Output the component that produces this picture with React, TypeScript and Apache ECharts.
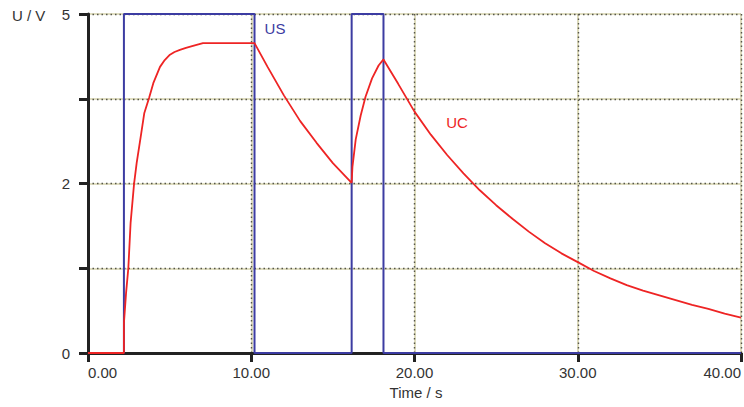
import React, { useEffect, useRef } from "react";
import * as echarts from "echarts";

// US: source voltage (square pulses)
const usTime = [0, 2.2, 2.2, 10.2, 10.2, 16.15, 16.15, 18.1, 18.1, 40];
const usValue = [0, 0, 5, 5, 0, 0, 5, 5, 0, 0];

// UC: capacitor voltage
const ucTime = [
  0, 2.2, 2.2, 2.33, 2.47, 2.61, 2.82, 2.98, 3.23, 3.45, 3.74, 4.0, 4.41, 4.7, 5.02, 5.3, 5.63, 6.0, 6.43, 7.04,
  10.2, 11, 12, 13, 14, 15, 16.15, 16.2, 16.4, 16.7, 17.0, 17.4, 17.8, 18.1,
  19, 20, 21, 22, 23, 24, 25, 26, 27, 28, 29, 30, 31, 32, 33, 34, 35, 36, 37, 38, 39, 40,
];
const ucValue = [
  0, 0, 0.44, 0.88, 1.25, 1.92, 2.49, 2.8, 3.19, 3.54, 3.76, 3.98, 4.22, 4.32, 4.4, 4.44, 4.47, 4.5, 4.53, 4.57,
  4.57, 4.22, 3.8, 3.42, 3.1, 2.8, 2.51, 2.75, 3.15, 3.5, 3.78, 4.05, 4.24, 4.33,
  3.97, 3.56, 3.22, 2.92, 2.65, 2.4, 2.18, 1.98, 1.79, 1.62, 1.47, 1.34, 1.21, 1.1, 1.0, 0.92, 0.85,
  0.78, 0.71, 0.65, 0.58, 0.52,
];

const yTickValues = [0, 1.25, 2.5, 3.75, 5];
const yTickLabels = ["0", "", "2", "", "5"];

const FONT = "Liberation Sans, Arial, Helvetica, sans-serif";
const AXIS = "#222";
const TEXT = "#333";
const FS = 15;

export default function App() {
  const ref = useRef<HTMLDivElement>(null);

  useEffect(() => {
    document.body.style.margin = "0";
    const chart = echarts.init(ref.current!, null, { renderer: "svg" });
    const us = usTime.map((t, i) => [t, usValue[i]]);
    const uc = ucTime.map((t, i) => [t, ucValue[i]]);

    const baseX = {
      type: "value",
      min: 0,
      max: 40,
      interval: 10,
      position: "bottom",
    };
    const baseY = {
      type: "value",
      min: 0,
      max: 5,
      interval: 1.25,
      position: "left",
    };

    chart.setOption({
      animation: false,
      grid: { left: 88, right: 3, top: 14, bottom: 54, containLabel: false },
      textStyle: { fontFamily: FONT },
      xAxis: [
        {
          ...baseX,
          axisLine: { show: false },
          axisTick: { show: false },
          axisLabel: { show: false },
          splitLine: {
            show: true,
            showMinLine: false,
            lineStyle: { color: "#d6d3ad", width: 1.6, type: "solid" },
          },
        },
        {
          ...baseX,
          axisLine: { show: true, onZero: false, lineStyle: { color: AXIS, width: 3 } },
          axisTick: { show: true, inside: false, length: 9, lineStyle: { color: AXIS, width: 3 } },
          axisLabel: {
            show: true,
            margin: 12,
            color: TEXT,
            fontSize: FS,
            fontFamily: FONT,
            alignMinLabel: "left",
            alignMaxLabel: "right",
            formatter: (v: number) => v.toFixed(2),
          },
          splitLine: {
            show: true,
            showMinLine: false,
            lineStyle: { color: "#55554a", width: 1.4, type: [1.5, 3] },
          },
        },
      ],
      yAxis: [
        {
          ...baseY,
          axisLine: { show: false },
          axisTick: { show: false },
          axisLabel: { show: false },
          splitLine: {
            show: true,
            showMinLine: false,
            lineStyle: { color: "#d6d3ad", width: 1.6, type: "solid" },
          },
        },
        {
          ...baseY,
          axisLine: { show: true, onZero: false, lineStyle: { color: AXIS, width: 3 } },
          axisTick: { show: true, inside: false, length: 9, lineStyle: { color: AXIS, width: 3 } },
          axisLabel: {
            show: true,
            margin: 18,
            color: TEXT,
            fontSize: FS,
            fontFamily: FONT,
            formatter: (v: number) => {
              const idx = yTickValues.findIndex((t) => Math.abs(t - v) < 1e-6);
              return idx >= 0 ? yTickLabels[idx] : "";
            },
          },
          splitLine: {
            show: true,
            showMinLine: false,
            lineStyle: { color: "#55554a", width: 1.4, type: [1.5, 3] },
          },
        },
      ],
      series: [
        {
          name: "US",
          type: "line",
          xAxisIndex: 1,
          yAxisIndex: 1,
          data: us,
          showSymbol: false,
          symbol: "none",
          lineStyle: { color: "#3c3ca2", width: 2 },
          z: 3,
        },
        {
          name: "UC",
          type: "line",
          xAxisIndex: 1,
          yAxisIndex: 1,
          data: uc,
          showSymbol: false,
          symbol: "none",
          lineStyle: { color: "#ee2424", width: 1.8 },
          z: 4,
        },
      ],
      graphic: [
        {
          type: "text",
          left: 12,
          top: 8,
          style: { text: "U / V", fill: TEXT, font: `${FS}px ${FONT}` },
        },
        {
          type: "text",
          x: 416,
          y: 392,
          style: {
            text: "Time / s",
            fill: TEXT,
            font: `${FS}px ${FONT}`,
            align: "center",
            verticalAlign: "middle",
          },
        },
        {
          type: "text",
          x: 275,
          y: 28,
          style: {
            text: "US",
            fill: "#3c3ca2",
            font: `${FS}px ${FONT}`,
            align: "center",
            verticalAlign: "middle",
          },
        },
        {
          type: "text",
          x: 457,
          y: 122,
          style: {
            text: "UC",
            fill: "#ee2424",
            font: `${FS}px ${FONT}`,
            align: "center",
            verticalAlign: "middle",
          },
        },
      ],
    });
    return () => chart.dispose();
  }, []);

  return (
    <div
      ref={ref}
      style={{ position: "fixed", left: 0, top: 0, width: 744, height: 407, background: "#fff" }}
    />
  );
}
